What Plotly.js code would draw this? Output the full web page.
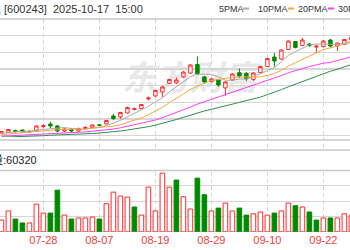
<!DOCTYPE html>
<html><head><meta charset="utf-8">
<script src="https://cdn.plot.ly/plotly-3.0.1.min.js"></script>
<style>html,body{margin:0;padding:0;background:#fff;overflow:hidden}#chart{width:350px;height:250px;}</style>
</head><body><div id="chart"></div>
<script>
// ---- data ----
const stockCode = '600243';
const stockName = '青海华鼎';
const stamp = '2025-10-17 15:00';
const lastVolume = 60320;
const dates = ['07-18','07-21','07-22','07-23','07-24','07-25','07-28','07-29','07-30','07-31','08-01','08-04','08-05','08-06','08-07','08-08','08-11','08-12','08-13','08-14','08-15','08-18','08-19','08-20','08-21','08-22','08-25','08-26','08-27','08-28','08-29','09-01','09-02','09-03','09-04','09-05','09-08','09-09','09-10','09-11','09-12','09-15','09-16','09-17','09-18','09-19','09-22','09-23','09-24','09-25','09-26'];
const open  = [4.16,4.19,4.31,4.34,4.23,4.30,4.55,4.70,4.58,4.28,4.37,4.28,4.43,4.49,4.65,4.70,5.18,5.12,5.36,5.57,5.63,6.20,6.38,6.62,7.13,7.16,7.52,7.75,8.26,7.52,7.25,7.34,6.86,7.34,7.77,7.73,7.37,7.78,8.14,8.71,8.59,9.16,9.64,9.40,9.49,9.31,9.34,9.73,9.37,9.46,9.73];
const high  = [4.28,4.40,4.37,4.37,4.31,4.61,4.68,4.84,4.64,4.46,4.46,4.49,4.58,4.67,4.70,4.94,5.30,5.42,5.74,5.69,5.90,6.35,6.74,6.98,7.40,7.49,7.87,8.29,8.74,7.58,7.46,7.40,7.25,7.75,8.02,7.81,7.81,8.17,8.67,8.95,9.16,9.70,9.67,9.87,9.55,9.39,9.73,9.79,9.57,9.79,9.93];
const low   = [4.13,4.16,4.19,4.19,4.19,4.28,4.44,4.44,4.20,4.22,4.22,4.22,4.34,4.46,4.58,4.67,4.94,5.00,5.33,5.51,5.60,6.11,6.32,6.32,7.10,7.10,7.46,7.70,7.64,7.14,7.19,6.93,6.38,7.28,7.46,7.28,7.28,7.75,8.11,8.13,8.53,9.13,9.23,9.37,9.31,8.95,9.28,9.31,9.07,9.43,9.67];
const close = [4.25,4.37,4.25,4.22,4.26,4.58,4.61,4.58,4.28,4.40,4.28,4.43,4.49,4.64,4.61,4.91,5.03,5.39,5.69,5.61,5.87,6.26,6.71,6.92,7.37,7.34,7.81,8.23,7.70,7.22,7.40,7.04,7.22,7.70,7.58,7.40,7.75,8.14,8.62,8.47,9.13,9.67,9.28,9.73,9.40,9.37,9.67,9.37,9.55,9.76,9.91];
const volume = [53000,95000,58000,40000,40000,126000,85000,85000,190000,76000,58000,63000,63000,67000,58000,128000,181000,163000,158000,113000,76000,204000,95000,268000,204000,236000,160000,104000,245000,169000,95000,108000,131000,95000,108000,76000,82000,90000,76000,85000,95000,131000,119000,113000,90000,53000,63000,63000,63000,82000,73000];
const ma5  = [4.14,4.20,4.23,4.25,4.27,4.34,4.38,4.45,4.46,4.49,4.43,4.39,4.38,4.45,4.49,4.62,4.74,4.92,5.13,5.33,5.52,5.76,6.03,6.27,6.63,6.92,7.23,7.53,7.69,7.66,7.67,7.52,7.32,7.32,7.39,7.39,7.53,7.71,7.90,8.08,8.42,8.81,9.03,9.26,9.44,9.49,9.49,9.51,9.47,9.54,9.65];
const ma10 = [4.07,4.11,4.14,4.16,4.19,4.24,4.29,4.34,4.36,4.38,4.38,4.39,4.41,4.46,4.49,4.52,4.57,4.65,4.79,4.91,5.07,5.25,5.47,5.70,5.98,6.22,6.50,6.78,6.98,7.14,7.30,7.37,7.43,7.50,7.52,7.53,7.52,7.52,7.61,7.73,7.91,8.17,8.37,8.58,8.76,8.96,9.15,9.27,9.36,9.49,9.57];
const ma20 = [3.97,3.99,4.00,4.02,4.03,4.06,4.10,4.13,4.14,4.17,4.18,4.21,4.23,4.27,4.30,4.35,4.40,4.47,4.56,4.64,4.73,4.82,4.94,5.08,5.23,5.37,5.53,5.71,5.89,6.03,6.18,6.31,6.45,6.60,6.75,6.88,7.01,7.15,7.30,7.44,7.60,7.77,7.90,8.04,8.14,8.24,8.34,8.39,8.49,8.61,8.74];
const ma30 = [3.91,3.92,3.93,3.94,3.96,3.98,4.00,4.03,4.04,4.06,4.07,4.09,4.11,4.13,4.16,4.19,4.23,4.28,4.34,4.40,4.46,4.54,4.63,4.73,4.85,4.97,5.10,5.24,5.37,5.48,5.58,5.67,5.77,5.89,6.00,6.09,6.20,6.31,6.46,6.59,6.76,6.93,7.09,7.26,7.42,7.57,7.72,7.86,7.98,8.12,8.26];
const maNames = ['5PMA','10PMA','20PMA','30PMA'];
const tickDates = ['07-28','08-07','08-19','08-29','09-10','09-22'];

// ---- drawing ----
const W = 350, H = 250;
const px = v => v / W, py = v => 1 - v / H;
const idx = dates.map((d, i) => i);
const upRed = '#ff2a2a', downGreen = '#008a00';
const maColors = ['#aaaaaa', '#f2a93b', '#ff3cff', '#2f8f4f'];
const volUp = close.map((c, i) => i === 0 ? c >= open[i] : c >= close[i - 1]);

const traces = [
  {type:'candlestick', x: idx, open, high, low, close, xaxis:'x', yaxis:'y',
   increasing:{line:{color:upRed, width:1}, fillcolor:'#ffffff'},
   decreasing:{line:{color:downGreen, width:1}, fillcolor:downGreen},
   whiskerwidth:0, hoverinfo:'skip', showlegend:false}
];
[ma5, ma10, ma20, ma30].forEach((m, k) => traces.push({
  type:'scatter', mode:'lines', x: idx, y: m, xaxis:'x', yaxis:'y',
  line:{color: maColors[k], width:1}, hoverinfo:'skip', showlegend:false}));
traces.push({type:'bar', x: idx, y: volume, xaxis:'x2', yaxis:'y2', width:0.66,
  marker:{color: volUp.map(u => u ? '#ffffff' : downGreen),
          line:{color: volUp.map(u => u ? upRed : downGreen), width:1}},
  hoverinfo:'skip', showlegend:false});

const xr = [-0.2, 49.8];
const gridC = '#d6d6d6';
const tickIdx = tickDates.map(d => dates.indexOf(d));

const shapes = [
  {type:'rect', xref:'paper', yref:'paper', x0:px(115), x1:px(265), y0:py(102), y1:py(58),
   line:{width:0}, fillcolor:'rgba(0,0,0,0)', layer:'below',
   label:{text:'东方财富', textposition:'middle center',
          font:{size:34, color:'#e8e8e8', family:'Noto Sans CJK SC', weight:'bold', style:'italic'}}},
  {type:'line', xref:'paper', yref:'paper', x0:0, x1:1, y0:py(19), y1:py(19), line:{color:'#c8c8c8', width:1.5}},
  {type:'rect', xref:'paper', yref:'paper', x0:-0.01, x1:1.01, y0:py(170.4), y1:py(150),
   fillcolor:'#ffffff', line:{color:'#c8c8c8', width:1.5}, layer:'above'}
];
const legX = [218, 257, 297, 337];
const markX = [243, 288, 328, 368];
maColors.forEach((c, k) => shapes.push({type:'line', xref:'paper', yref:'paper',
  x0:px(markX[k]), x1:px(markX[k] + 6), y0:py(8.5), y1:py(8.5), line:{color:c, width:2}}));

const baseFont = 'Liberation Sans, Noto Sans CJK SC';
const annotations = [
  {xref:'paper', yref:'paper', x:px(3), y:py(9), xanchor:'right', yanchor:'middle', showarrow:false,
   text: stockName, font:{size:11, color:'#333', family:'Noto Sans CJK SC'}},
  {xref:'paper', yref:'paper', x:px(1.5), y:py(9), xanchor:'left', yanchor:'middle', showarrow:false,
   text:'[' + stockCode + ']\u00a0\u00a0' + stamp.replace(' ', '\u00a0\u00a0'),
   font:{size:11, color:'#333', family:baseFont}},
  {xref:'paper', yref:'paper', x:px(-10.5), y:py(160), xanchor:'left', yanchor:'middle', showarrow:false,
   text:'量:' + lastVolume, font:{size:11, color:'#222', family:baseFont}}
];
maNames.forEach((n, k) => annotations.push({xref:'paper', yref:'paper', x:px(legX[k] - 1.5), y:py(9),
  xanchor:'left', yanchor:'middle', showarrow:false, text:n, font:{size:9, color:'#333', family:baseFont}}));

const layout = {
  width:W, height:H, margin:{l:0, r:0, t:0, b:0},
  paper_bgcolor:'#ffffff', plot_bgcolor:'rgba(0,0,0,0)',
  font:{family:baseFont, size:11, color:'#333'},
  showlegend:false, bargap:0,
  xaxis:{domain:[0,1], range:xr, anchor:'y', showticklabels:false, tickvals:tickIdx, ticks:'',
         showgrid:true, gridcolor:gridC, griddash:'4px,3px', gridwidth:1, zeroline:false, showline:false,
         rangeslider:{visible:false}, fixedrange:true},
  yaxis:{domain:[py(137), py(19)], range:[3.922, 10.988], dtick:1, tick0:0, showticklabels:false,
         showgrid:true, gridcolor:gridC, gridwidth:1.2, zeroline:false, ticks:'', fixedrange:true},
  xaxis2:{domain:[0,1], range:xr, anchor:'y2', tickvals:tickIdx, ticktext:tickDates, ticks:'',
          tickfont:{size:11, color:'#f23c3c', family:'Liberation Sans'},
          showgrid:true, gridcolor:gridC, griddash:'4px,3px', gridwidth:1, zeroline:false, showline:false,
          rangeslider:{visible:false}, fixedrange:true},
  yaxis2:{domain:[py(231.7), py(137)], range:[0, 433300], dtick:70000, tick0:0, showticklabels:false,
          showgrid:true, gridcolor:gridC, gridwidth:1.2, zeroline:true, zerolinecolor:'#c0c0c0', zerolinewidth:1.5,
          ticks:'', fixedrange:true},
  shapes, annotations
};
Plotly.newPlot('chart', traces, layout, {staticPlot:true, displayModeBar:false});
</script></body></html>
